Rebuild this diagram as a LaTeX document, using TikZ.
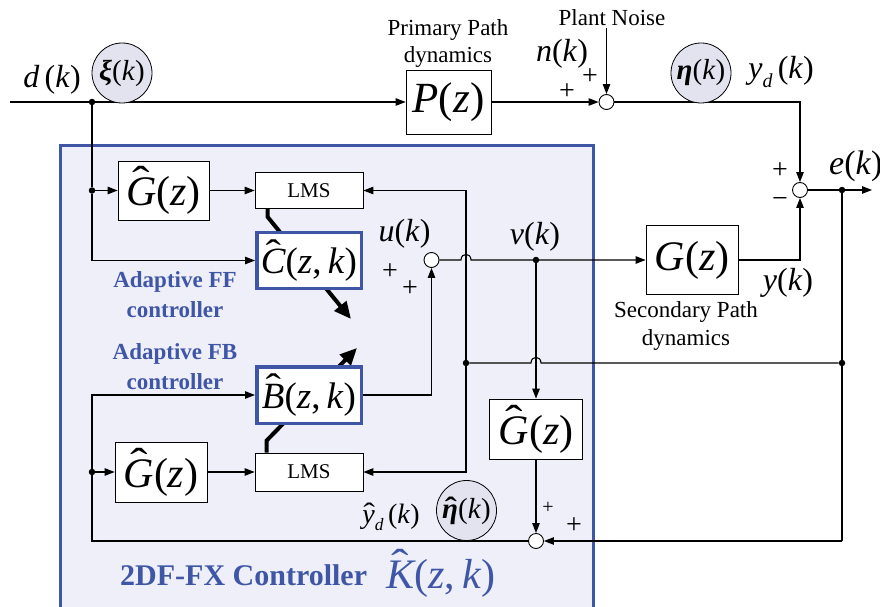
\RequirePackage{fix-cm}
\documentclass[tikz,border=0pt]{standalone}
\usepackage{fontspec}
\setmainfont{Liberation Serif}
\usetikzlibrary{arrows.meta}
\definecolor{cblue}{HTML}{3F56A6}
\definecolor{cfill}{HTML}{EEEFF8}
\definecolor{ccirc}{HTML}{E3E3F0}
\pgfdeclarelayer{back}\pgfdeclarelayer{mid}\pgfsetlayers{back,mid,main}
\newcommand{\myfs}[1]{\fontsize{#1}{#1}\selectfont}
\newcommand{\iv}[1]{\textit{#1}}
\newcommand{\hv}[2][0em]{\setbox0=\hbox{\itshape #2}\rlap{\hbox to \wd0{\hss\kern#1\raisebox{\dimexpr\ht0-0.43em\relax}{\scalebox{1.25}[1]{ˆ}}\hss}}\box0}
\newcommand{\lsub}[1]{\raisebox{-0.28em}{\fontsize{0.62\dimexpr\fontdimen6\font\relax}{1pt}\selectfont\itshape #1}}
\begin{document}
\begin{tikzpicture}[x=1pt,y=-1pt,
 ln/.style={line width=1.1pt},
 arr/.style={ln,-{Triangle[length=10pt,width=7.5pt]}},
 thk/.style={line width=4pt,-{Triangle[length=17pt,width=15pt]}},
 box/.style={draw,fill=white,line width=0.8pt,inner sep=0pt},
 bbox/.style={draw=cblue,fill=white,line width=3.5pt,inner sep=0pt},
 sumc/.style={circle,draw,fill=white,line width=0.9pt,minimum size=15pt,inner sep=0pt},
 sig/.style={circle,draw,fill=ccirc,line width=0.8pt,minimum size=60pt,inner sep=0pt,font=\myfs{29}},
 dotn/.style={circle,fill,minimum size=6.5pt,inner sep=0pt},
 txt/.style={inner sep=0pt,font=\myfs{23}},
 ml/.style={inner sep=0pt,font=\myfs{32}},
 pl/.style={inner sep=0pt,font=\myfs{28}},
 blt/.style={inner sep=0pt,font=\myfs{23}\bfseries,text=cblue}
]
\useasboundingbox (0,0) rectangle (880,607);
% blue controller area
\begin{pgfonlayer}{back}
\draw[cblue,fill=cfill,line width=3pt] (60,145) rectangle (593,640);
\end{pgfonlayer}
% blocks
\node[box,minimum width=85pt,minimum height=64pt,font=\myfs{43}] (P) at (448.5,102) {\iv{P}(\iv{z})};
\node[box,minimum width=92pt,minimum height=69pt,font=\myfs{42}] (G) at (692,260) {\iv{G}(\iv{z})};
\node[box,minimum width=91pt,minimum height=59pt,font=\myfs{42}] (Gh1) at (163.5,190.5) {\hv{G}(\iv{z})};
\node[box,minimum width=108pt,minimum height=36pt,font=\myfs{21}] (LMS1) at (309,190.5) {LMS};
\node[bbox,minimum width=104.5pt,minimum height=56pt,font=\myfs{37}] (C) at (309,260.5) {\hv{C}(\iv{z},\,\iv{k})};
\node[bbox,minimum width=104.5pt,minimum height=56.5pt,font=\myfs{37}] (B) at (309,395) {\hv{B}(\iv{z},\,\iv{k})};
\node[box,minimum width=108pt,minimum height=38pt,font=\myfs{21}] (LMS2) at (309,472) {LMS};
\node[box,minimum width=92pt,minimum height=60pt,font=\myfs{42}] (Gh2) at (161,472) {\hv{G}(\iv{z})};
\node[box,minimum width=93pt,minimum height=60pt,font=\myfs{42}] (Gh3) at (536,429) {\hv{G}(\iv{z})};
% summing junctions
\node[sumc] (s1) at (606.5,102) {};
\node[sumc] (se) at (800,190) {};
\node[sumc] (su) at (431.5,260) {};
\node[sumc] (sb) at (536,541) {};
% junction dots and free ends
\node[dotn] (dd) at (92,102) {};
\node[dotn] (d1) at (92,190.5) {};
\node[dotn] (d2) at (92,472) {};
\node[dotn] (dv) at (536,260) {};
\node[dotn] (de) at (842,190) {};
\node[dotn] (dfb) at (842,363) {};
\node[dotn] (dfl) at (466,363) {};
\coordinate (din) at (10,102);
\coordinate (ntop) at (606.5,28);
\coordinate (eout) at (872,190);
\coordinate (cbr) at (842,541);
\coordinate (cbl) at (92,541);
\coordinate (tc) at (351,319);
\coordinate (tb) at (357,348);
% adaptation arrows (behind blocks)
\begin{pgfonlayer}{mid}
\draw[thk] ([xshift=13pt]LMS1.south west) -- ++(0,8) -- (tc);
\draw[thk] ([xshift=12pt]LMS2.north west) -- ++(0,-12) -- (tb);
\end{pgfonlayer}
% connectors
\draw[arr] (din) -- (P.west);
\draw[arr] (P.east) -- (s1.west);
\draw[arr] (ntop) -- (s1.north);
\draw[arr] (s1.east) -| (se.north);
\draw[arr] (G.east) -| (se.south);
\draw[arr] (se.east) -- (eout);
\draw[ln] (de) -- (dfb) -- (cbr);
\draw[arr] (cbr) -- (sb.east);
\draw[ln] (dfb) -- (541,363) .. controls (541,355.5) and (531,355.5) .. (531,363) -- (dfl);
\draw[arr] (dfl) |- (LMS1.east);
\draw[arr] (dfl) |- (LMS2.east);
\draw[ln] (dd) -- (d1);
\draw[arr] (d1) -- (Gh1.west);
\draw[arr] (d1) |- (C.west);
\draw[arr] (Gh1.east) -- (LMS1.west);
\draw[arr] (su.east) -- (461,260) .. controls (461,252.5) and (471,252.5) .. (471,260) -- (G.west);
\draw[arr] (dv) -- (Gh3.north);
\draw[arr] (Gh3.south) -- (sb.north);
\draw[arr] (B.east) -| (su.south);
\draw[arr] (sb.west) -- (cbl) |- (B.west);
\draw[arr] (d2) -- (Gh2.west);
\draw[arr] (Gh2.east) -- (LMS2.west);
% signal circles
\node[sig] (xi) at (122,73) {{\bfseries\itshape ξ}(\iv{k})};
\node[sig] (eta) at (701,73) {{\bfseries\itshape η}(\iv{k})};
\node[sig] (etah) at (466.5,510.5) {{\bfseries\hv[0.05em]{η}}(\iv{k})};
% labels
\node[txt] (ppl) at (448,30) {Primary Path};
\node[txt] (ppd) at (448,57) {dynamics};
\node[txt] (pn) at (612,18) {Plant Noise};
\node[txt] (spl) at (686,312) {Secondary Path};
\node[txt] (spd) at (686,340) {dynamics};
\node[ml] (dk) at (52,80) {\iv{d}\,(\iv{k})};
\node[ml] (nk) at (562,54) {\iv{n}(\iv{k})};
\node[ml] (ydk) at (781,72) {\iv{y}\lsub{d}\,(\iv{k})};
\node[ml,anchor=west,font=\myfs{34}] (ek) at (829,166) {\iv{e}(\iv{k})};
\node[ml] (yk) at (788,283) {\iv{y}(\iv{k})};
\node[ml] (uk) at (404.5,234) {\iv{u}(\iv{k})};
\node[ml] (vk) at (535,237) {\iv{v}(\iv{k})};
\node[inner sep=0pt,font=\myfs{28}] (ydh) at (391,517) {\hv[0.05em]{y}\lsub{d}\,(\iv{k})};
\node[pl] (p1) at (567,92) {+};
\node[pl] (p2) at (590,77) {+};
\node[pl] (p3) at (780,171) {+};
\node[pl] (m1) at (780,203) {−};
\node[pl] (p4) at (390,272) {+};
\node[pl] (p5) at (410,289) {+};
\node[inner sep=0pt,font=\myfs{20}] (p6) at (548,508) {+};
\node[pl] (p7) at (574,526) {+};
\node[blt] (ff1) at (175,282) {Adaptive FF};
\node[blt] (ff2) at (175,310) {controller};
\node[blt] (fb1) at (175,354) {Adaptive FB};
\node[blt] (fb2) at (175,382) {controller};
\node[inner sep=0pt,anchor=base west,font=\myfs{30}\bfseries,text=cblue] (kt) at (120,585) {2DF-FX Controller};
\node[inner sep=0pt,anchor=base west,font=\myfs{42},text=cblue] (kh) at (386,588) {\hv{K}(\iv{z},\,\iv{k})};
\end{tikzpicture}
\end{document}
